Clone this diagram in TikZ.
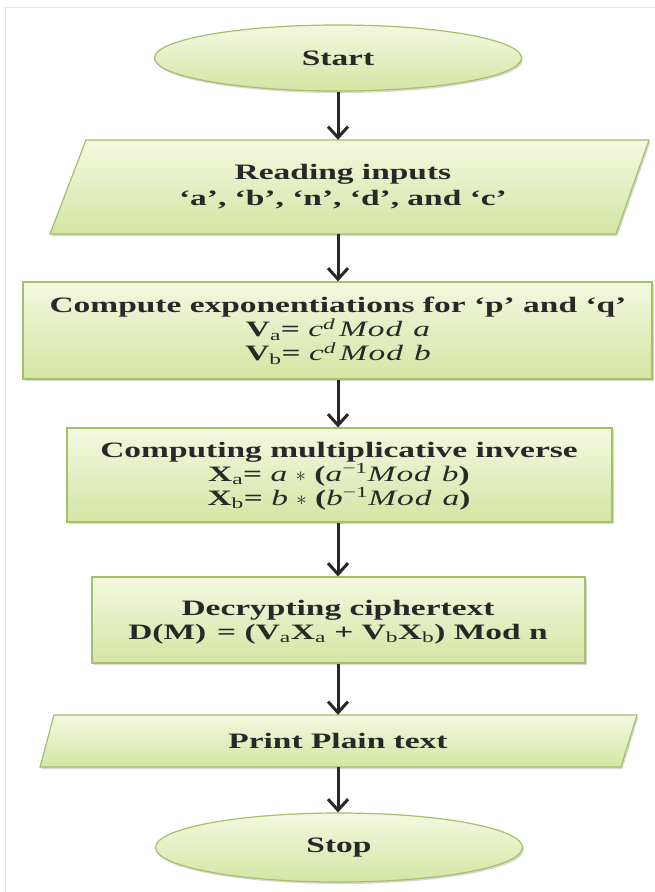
\documentclass[tikz,border=0pt]{standalone}
\usepackage{fontspec}
\setmainfont[FakeStretch=1.52]{Liberation Serif}
\usetikzlibrary{shapes.geometric,shadows,arrows.meta}
\definecolor{boxtop}{RGB}{244,248,224}
\definecolor{boxbot}{RGB}{212,229,164}
\definecolor{boxline}{RGB}{164,192,104}
\definecolor{ink}{RGB}{40,40,40}
\definecolor{framecol}{RGB}{230,230,230}
\newcommand{\mi}[1]{{\mdseries\itshape #1}}
\newcommand{\sbs}[1]{\textsubscript{\mdseries #1}}
\begin{document}
\begin{tikzpicture}[x=1pt,y=-1pt,
  shapebox/.style={draw=boxline, line width=1.2pt, top color=boxtop, bottom color=boxbot,
    drop shadow={shadow xshift=1.5pt, shadow yshift=-2pt, opacity=0.3}},
  rectbox/.style={shapebox, rectangle, inner sep=0pt, align=center, text=ink,
    font=\bfseries\fontsize{22}{24}\selectfont},
  ovalbox/.style={shapebox, ellipse, inner sep=0pt, text=ink,
    font=\bfseries\fontsize{22}{24}\selectfont},
  txt/.style={rectangle, inner sep=0pt, align=center, text=ink, minimum width=10pt,
    font=\bfseries\fontsize{22}{24}\selectfont},
  arr/.style={draw=ink, line width=3pt, -{Straight Barb[length=11pt,width=20pt,line width=3pt]}}]
\useasboundingbox (0,0) rectangle (654,892);
\fill[white] (0,0) rectangle (654,892);
\draw[framecol, line width=0.8pt] (5,900) -- (5,7) -- (660,7);

% Start
\node[ovalbox, minimum width=367pt, minimum height=66pt] (start) at (338,58) {Start};

% Input parallelogram
\path[shapebox] (86,140) -- (649,140) -- (616,234) -- (50,234) -- cycle;
\node[txt, minimum height=94pt] (in1) at (338,187)
  {\hspace*{10pt}Reading inputs\\[2pt] \hspace*{10pt}‘a’, ‘b’, ‘n’, ‘d’, and ‘c’};

% Exponentiations
\node[rectbox, minimum width=629pt, minimum height=97pt] (comp) at (337.5,330.5) {};
\node[txt] (comptxt) at (338,331)
  {\fontsize{22}{30}\selectfont Compute exponentiations for ‘p’ and ‘q’\\
   V\sbs{a}= \mi{c\textsuperscript{d}\,M\kern1pt o\kern1pt d\enspace a}\\
   V\sbs{b}= \mi{c\textsuperscript{d}\,M\kern1pt o\kern1pt d\enspace b}};

% Inverse
\node[rectbox, minimum width=545pt, minimum height=94pt] (inv) at (339.5,475) {};
\node[txt] (invtxt) at (339,476)
  {Computing multiplicative inverse\\
   X\sbs{a}= \mi{a} $\ast$ (\mi{a}\textsuperscript{\mdseries −1}\mi{M\kern1pt o\kern1pt d\enspace b})\\
   X\sbs{b}= \mi{b} $\ast$ (\mi{b}\textsuperscript{\mdseries −1}\mi{M\kern1pt o\kern1pt d\enspace a})};

% Decrypt
\node[rectbox, minimum width=493pt, minimum height=86pt] (dec) at (338.5,620) {};
\node[txt] (dectxt) at (338,622)
  {\fontsize{22}{26}\selectfont Decrypting ciphertext\\
   D(M)\enspace = (V\sbs{a}X\sbs{a} + V\sbs{b}X\sbs{b}) Mod n};

% Output parallelogram
\path[shapebox] (54,715) -- (637,715) -- (621,767) -- (40,767) -- cycle;
\node[txt, minimum height=52pt] (out) at (338,741) {Print Plain text};

% Stop
\node[ovalbox, minimum width=367pt, minimum height=69pt] (stop) at (339,847.5) {Stop};

% Connectors
\draw[arr] (start.south) -- (in1.north);
\draw[arr] (in1.south) -- (comp.north -| in1.south);
\draw[arr] (comp.south -| in1.south) -- (inv.north -| in1.south);
\draw[arr] (inv.south -| in1.south) -- (dec.north -| in1.south);
\draw[arr] (dec.south -| in1.south) -- (out.north -| in1.south);
\draw[arr] (out.south -| in1.south) -- (stop.north -| in1.south);
\end{tikzpicture}
\end{document}
